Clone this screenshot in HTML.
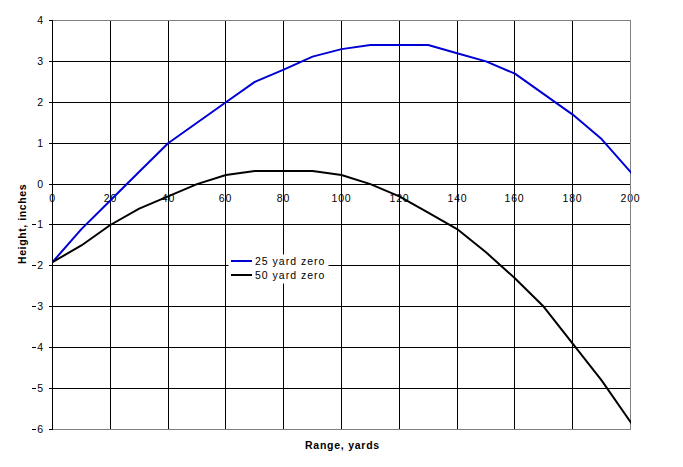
<!DOCTYPE html>
<html><head><meta charset="utf-8"><style>
html,body{margin:0;padding:0;background:#fff;}
body{width:683px;height:467px;position:relative;overflow:hidden;font-family:"Liberation Sans",sans-serif;color:#000;}
svg{position:absolute;left:0;top:0;}
.yl{position:absolute;left:0;width:44px;text-align:right;font-size:10.5px;line-height:14px;letter-spacing:0.8px;}
.mn{display:inline-block;width:4px;height:1px;background:#000;vertical-align:3px;margin-right:1px;}
.xl{position:absolute;top:191px;width:41px;text-align:center;font-size:10.5px;line-height:14px;letter-spacing:0.8px;}
.t{position:absolute;font-weight:bold;font-size:11px;line-height:14px;white-space:nowrap;}
#legend{position:absolute;left:229px;top:254px;width:99px;height:29px;}
.lg{position:absolute;left:26px;font-size:10.5px;line-height:14px;letter-spacing:1.0px;white-space:nowrap;}
.sw{position:absolute;left:2px;width:21px;height:2px;}
</style></head><body>
<div class="yl" style="top:13px">4</div><div class="yl" style="top:54px">3</div><div class="yl" style="top:95px">2</div><div class="yl" style="top:136px">1</div><div class="yl" style="top:177px">0</div><div class="yl" style="top:217px"><span class="mn"></span>1</div><div class="yl" style="top:258px"><span class="mn"></span>2</div><div class="yl" style="top:299px"><span class="mn"></span>3</div><div class="yl" style="top:340px"><span class="mn"></span>4</div><div class="yl" style="top:381px"><span class="mn"></span>5</div><div class="yl" style="top:422px"><span class="mn"></span>6</div><div class="xl" style="left:32px">0</div><div class="xl" style="left:90px">20</div><div class="xl" style="left:148px">40</div><div class="xl" style="left:205px">60</div><div class="xl" style="left:263px">80</div><div class="xl" style="left:321px">100</div><div class="xl" style="left:379px">120</div><div class="xl" style="left:437px">140</div><div class="xl" style="left:494px">160</div><div class="xl" style="left:552px">180</div><div class="xl" style="left:610px">200</div>
<svg width="683" height="467" viewBox="0 0 683 467" shape-rendering="crispEdges">
<rect x="52" y="21" width="1" height="408" fill="#000"/><rect x="110" y="21" width="1" height="408" fill="#000"/><rect x="168" y="21" width="1" height="408" fill="#000"/><rect x="225" y="21" width="1" height="408" fill="#000"/><rect x="283" y="21" width="1" height="408" fill="#000"/><rect x="341" y="21" width="1" height="408" fill="#000"/><rect x="399" y="21" width="1" height="408" fill="#000"/><rect x="457" y="21" width="1" height="408" fill="#000"/><rect x="514" y="21" width="1" height="408" fill="#000"/><rect x="572" y="21" width="1" height="408" fill="#000"/><rect x="49" y="61" width="581" height="1" fill="#000"/><rect x="49" y="102" width="581" height="1" fill="#000"/><rect x="49" y="143" width="581" height="1" fill="#000"/><rect x="49" y="184" width="581" height="1" fill="#000"/><rect x="49" y="224" width="581" height="1" fill="#000"/><rect x="49" y="265" width="581" height="1" fill="#000"/><rect x="49" y="306" width="581" height="1" fill="#000"/><rect x="49" y="347" width="581" height="1" fill="#000"/><rect x="49" y="388" width="581" height="1" fill="#000"/><rect x="49" y="20" width="4" height="1" fill="#000"/><rect x="49" y="429" width="4" height="1" fill="#000"/><rect x="53" y="20" width="578" height="1" fill="#808080"/><rect x="53" y="429" width="578" height="1" fill="#808080"/><rect x="630" y="20" width="1" height="410" fill="#808080"/><rect x="52" y="20" width="1" height="410" fill="#000"/>
</svg>
<svg width="683" height="467" viewBox="0 0 683 467"><rect x="228.5" y="254.5" width="100" height="29" fill="#fff"/><defs><clipPath id="pc"><rect x="52" y="0" width="579" height="467"/></clipPath></defs>
<polyline points="52.50,262.10 81.40,229.09 110.30,200.46 139.20,171.83 168.10,143.20 197.00,122.75 225.90,102.30 254.80,81.85 283.70,69.58 312.60,56.60 341.50,49.13 370.40,45.04 399.30,45.04 428.20,45.04 457.10,53.22 486.00,61.40 514.90,73.67 543.80,94.12 572.70,114.57 601.60,139.11 630.50,171.83 633.50,175.23" fill="none" stroke="#0000d4" stroke-width="2" stroke-linejoin="round" clip-path="url(#pc)"/><polyline points="52.50,262.10 81.40,245.45 110.30,225.00 139.20,208.64 168.10,196.37 197.00,184.10 225.90,175.00 254.80,171.00 283.70,171.00 312.60,171.00 341.50,175.00 370.40,184.10 399.30,196.37 428.20,212.73 457.10,229.09 486.00,252.30 514.90,278.17 543.80,306.80 572.70,343.61 601.60,380.42 630.50,422.00 633.50,426.32" fill="none" stroke="#000" stroke-width="2" stroke-linejoin="round" clip-path="url(#pc)"/>
</svg>
<div id="legend">
<div class="sw" style="top:6px;background:#0000d4"></div>
<div class="lg" style="top:0px">25 yard zero</div>
<div class="sw" style="top:20px;background:#000"></div>
<div class="lg" style="top:14px">50 yard zero</div>
</div>

<div class="t" style="left:305px;top:438px;font-size:10.5px;letter-spacing:0.75px">Range, yards</div>
<div class="t" style="left:-18px;top:217px;transform:rotate(-90deg);transform-origin:center;width:80px;text-align:center;font-size:10.5px;letter-spacing:0.6px">Height, inches</div>
</body></html>
